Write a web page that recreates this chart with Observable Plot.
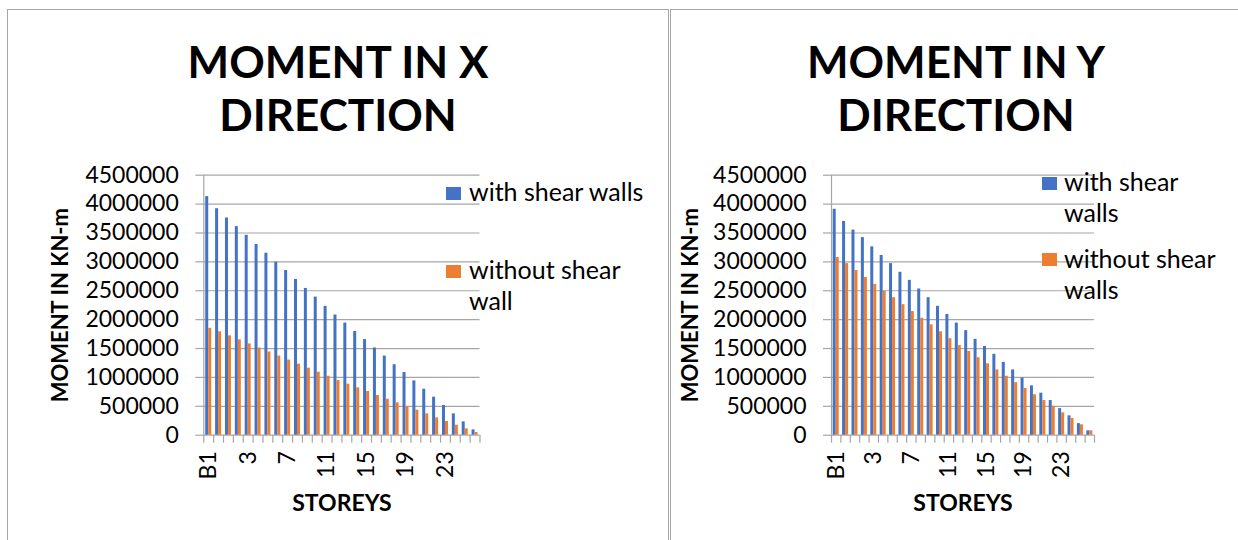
<!DOCTYPE html>
<html><head><meta charset="utf-8">
<script src="https://cdn.jsdelivr.net/npm/d3@7"></script>
<script src="https://cdn.jsdelivr.net/npm/@observablehq/plot@0.6"></script>
<style>
body{margin:0;background:#fff;}
#page{position:relative;width:1238px;height:540px;overflow:hidden;font-family:Lato,sans-serif;color:#000;}
.panel{position:absolute;top:9px;height:620px;border:1.5px solid #a6a6a6;border-bottom:none;box-sizing:border-box;}
.title{position:absolute;font-weight:bold;font-size:44px;line-height:53px;text-align:center;}
.leg{position:absolute;font-size:25px;line-height:31px;}
.sw{position:absolute;width:15px;height:13px;}
.chart{position:absolute;top:0;}
</style></head><body><div id="page"></div>
<script>
const storeys = ["B1","G","1","2","3","4","5","6","7","8","9","10","11","12","13","14","15","16","17","18","19","20","21","22","23","24","25","26"];
const yTicks = [0,500000,1000000,1500000,2000000,2500000,3000000,3500000,4000000,4500000];
const momentXWith = [4130000,3920000,3760000,3610000,3460000,3300000,3150000,2995000,2850000,2695000,2540000,2390000,2230000,2080000,1940000,1795000,1655000,1510000,1370000,1220000,1085000,940000,795000,658000,514000,369000,231000,92000];
const momentXWithout = [1850000,1790000,1720000,1650000,1580000,1510000,1440000,1370000,1300000,1230000,1160000,1090000,1020000,946000,883000,819000,756000,687000,623000,560000,496000,433000,369000,300000,237000,173000,110000,46000];
const momentYWith = [3910000,3700000,3550000,3420000,3260000,3110000,2970000,2820000,2680000,2530000,2380000,2230000,2090000,1940000,1810000,1660000,1535000,1400000,1260000,1130000,990000,854000,727000,600000,460000,335000,200000,75000];
const momentYWithout = [3075000,2970000,2850000,2730000,2610000,2490000,2380000,2260000,2140000,2025000,1910000,1790000,1670000,1550000,1450000,1340000,1235000,1130000,1020000,910000,810000,700000,600000,500000,387000,290000,180000,75000];
const titleX = ["MOMENT IN X","DIRECTION"];
const titleY = ["MOMENT IN Y","DIRECTION"];
const legendX = ["with shear walls","without shear wall"];
const legendY = ["with shear walls","without shear walls"];
const yLabel = "MOMENT IN KN-m";
const xLabel = "STOREYS";
const colors = ["#4472c4","#ed7d31"];
const gray = "#a6a6a6";

const page = document.getElementById("page");

function panel(left, width){
  const d = document.createElement("div");
  d.className = "panel"; d.style.left = left+"px"; d.style.width = width+"px";
  page.appendChild(d);
}

function chart({withVals, withoutVals, left, width, marginLeft, marginRight, labelDx}){
  const rows = storeys.map((s,i)=>({storey:s, with:withVals[i], without:withoutVals[i]}));
  const n = storeys.length;
  const step = (width - marginLeft - marginRight)/n;
  const barW = 3;
  const yMax = d3.max(yTicks);
  const svg = Plot.plot({
    width, height: 540, marginLeft, marginRight, marginTop: 174.7, marginBottom: 105.3,
    style: {fontFamily: "Lato, sans-serif", fontSize: "23px", color: "#000", background: "transparent", overflow: "visible"},
    x: {type: "band", domain: storeys, padding: 0, round: false, axis: null},
    y: {domain: [0, yMax], axis: null},
    marks: [
      Plot.gridY(yTicks, {stroke: gray, strokeOpacity: 1, strokeWidth: 1.2}),
      Plot.barY(rows, {x: "storey", y: "with", fill: colors[0], insetLeft: step/2 - barW, insetRight: step/2}),
      Plot.barY(rows, {x: "storey", y: "without", fill: colors[1], insetLeft: step/2, insetRight: step/2 - barW}),
      Plot.ruleX([storeys[0]], {y1: 0, y2: yMax, dx: -step/2, stroke: gray, strokeWidth: 1.2}),
      Plot.axisX(storeys, {tickSize: 8, tickFormat: () => "", dx: -step/2, stroke: gray, strokeWidth: 1.2, strokeOpacity: 1, label: null}),
      Plot.axisX([storeys[n-1]], {tickSize: 8, tickFormat: () => "", dx: step/2, stroke: gray, strokeWidth: 1.2, strokeOpacity: 1, label: null}),
      Plot.axisY(yTicks, {tickSize: 8, tickPadding: 17, tickFormat: d3.format("d"), stroke: gray, strokeWidth: 1.2, strokeOpacity: 1, label: null}),
      Plot.axisX(storeys.filter((d,i)=>i%4===0), {tickSize: 0, tickRotate: -90, tickPadding: 16, label: null}),
      Plot.text([yLabel], {text: d=>d, frameAnchor: "left", textAnchor: "middle", rotate: -90, dx: labelDx, fontWeight: "bold", fontSize: 22}),
      Plot.text([xLabel], {text: d=>d, frameAnchor: "bottom", dy: 76, fontWeight: "bold", fontSize: 23})
    ]
  });
  const wrap = document.createElement("div");
  wrap.className = "chart"; wrap.style.left = left+"px";
  wrap.appendChild(svg);
  page.appendChild(wrap);
}

function title(lines, left, width, top){
  const d = document.createElement("div");
  d.className = "title";
  d.style.left = left+"px"; d.style.width = width+"px"; d.style.top = top+"px";
  d.innerHTML = lines.join("<br>");
  page.appendChild(d);
}

function legend(labels, sx, tx, tw, items){
  labels.forEach((lab,i)=>{
    const s = document.createElement("div");
    s.className = "sw"; s.style.background = colors[i];
    s.style.left = sx+"px"; s.style.top = items[i].sy+"px";
    page.appendChild(s);
    const t = document.createElement("div");
    t.className = "leg"; t.textContent = lab;
    t.style.left = tx+"px"; t.style.width = tw+"px"; t.style.top = items[i].ty+"px";
    page.appendChild(t);
  });
}

panel(7, 662);
panel(669.5, 620);
chart({withVals: momentXWith, withoutVals: momentXWithout, left: 0, width: 668, marginLeft: 203.3, marginRight: 188.5, labelDx: -143});
chart({withVals: momentYWith, withoutVals: momentYWithout, left: 669, width: 569, marginLeft: 162, marginRight: 144, labelDx: -141});
title(titleX, 7, 662, 35);
title(titleY, 656, 600, 35);
legend(legendX, 446, 469, 190, [{sy:187, ty:176},{sy:265, ty:254}]);
legend(legendY, 1042, 1064, 165, [{sy:177, ty:166},{sy:253, ty:243}]);
</script></body></html>
